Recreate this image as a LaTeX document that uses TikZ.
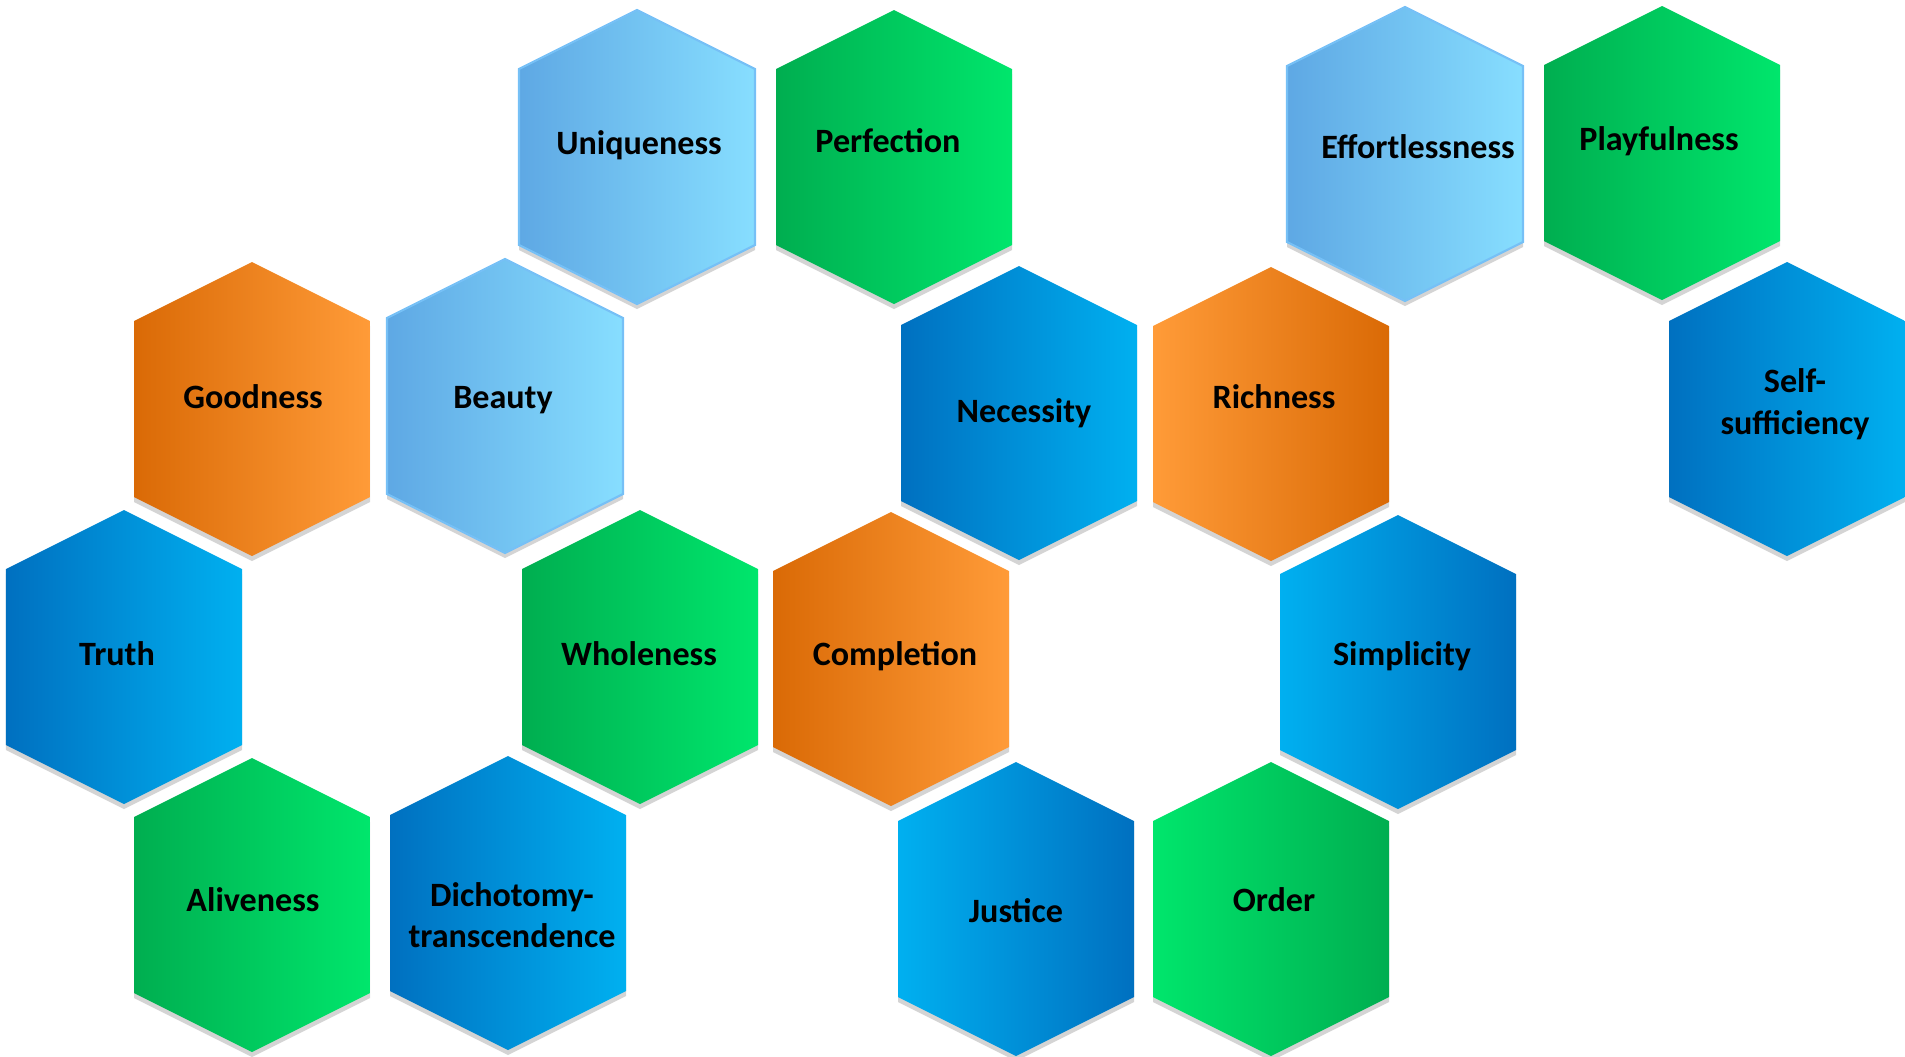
\documentclass[tikz,border=0pt]{standalone}
\usepackage{fontspec}
\setmainfont{Carlito}
\usetikzlibrary{calc}
\definecolor{skyL}{RGB}{94,168,228}
\definecolor{skyR}{RGB}{135,222,255}
\definecolor{skyEdge}{RGB}{118,192,246}
\definecolor{grnD}{RGB}{0,174,80}
\definecolor{grnB}{RGB}{0,230,108}
\definecolor{orgD}{RGB}{218,106,6}
\definecolor{orgB}{RGB}{255,155,56}
\definecolor{bluD}{RGB}{0,112,192}
\definecolor{bluB}{RGB}{0,176,240}
\definecolor{shadowgray}{RGB}{212,212,212}

\tikzset{
  hexagon/.style={insert path={(0,1.47) -- (1.18,0.88) -- (1.18,-0.88) -- (0,-1.47) -- (-1.18,-0.88) -- (-1.18,0.88) -- cycle}},
  hexshadow/.style={fill=shadowgray},
  skycell/.style={left color=skyL, right color=skyR, draw=skyEdge, line width=0.6pt},
  greencell/.style={left color=grnD, right color=grnB},
  greenflip/.style={left color=grnB, right color=grnD},
  orangecell/.style={left color=orgD, right color=orgB},
  orangeflip/.style={left color=orgB, right color=orgD},
  bluecell/.style={left color=bluD, right color=bluB},
  blueflip/.style={left color=bluB, right color=bluD},
  celltext/.style={font=\bfseries\fontsize{9.7}{11.8}\selectfont, align=center, inner sep=0pt}
}

\begin{document}
\begin{tikzpicture}
  \useasboundingbox (0,0) rectangle (19.05,-10.56);
  % centre x / centre y / look / text x / text y / name / text  (pixels)
  \foreach \cx/\cy/\look/\tx/\ty/\nm/\txt in {
    637/157/skycell/639/145/uniq/Uniqueness,
    894/157/greencell/888/141/perf/Perfection,
    1405/154/skycell/1418/147/effort/Effortlessness,
    1662/153/greencell/1659/141/play/Playfulness,
    252/409/orangecell/253/397/good/Goodness,
    505/406/skycell/503/400/beauty/Beauty,
    1019/413/bluecell/1024/413/need/Necessity,
    1271/414/orangeflip/1274/397/rich/Richness,
    1787/409/bluecell/1795/404/selfsuff/{Self-\\sufficiency},
    124/657/bluecell/117/654/truth/Truth,
    640/657/greencell/639/654/whole/Wholeness,
    891/659/orangecell/895/656/compl/Completion,
    1398/662/blueflip/1402/656/simple/Simplicity,
    252/905/greencell/253/900/alive/Aliveness,
    508/903/bluecell/512/915/dicho/{Dichotomy-\\transcendence},
    1016/909/blueflip/1016/911/justice/Justice,
    1271/909/greenflip/1274/900/order/Order}
  {
    \path[hexshadow, shift={(\cx/100,-\cy/100-0.05)}, hexagon];
    \path[\look, shift={(\cx/100,-\cy/100)}, hexagon];
    \node[celltext] (\nm) at (\tx/100,-\ty/100) {\txt};
  }
\end{tikzpicture}
\end{document}
